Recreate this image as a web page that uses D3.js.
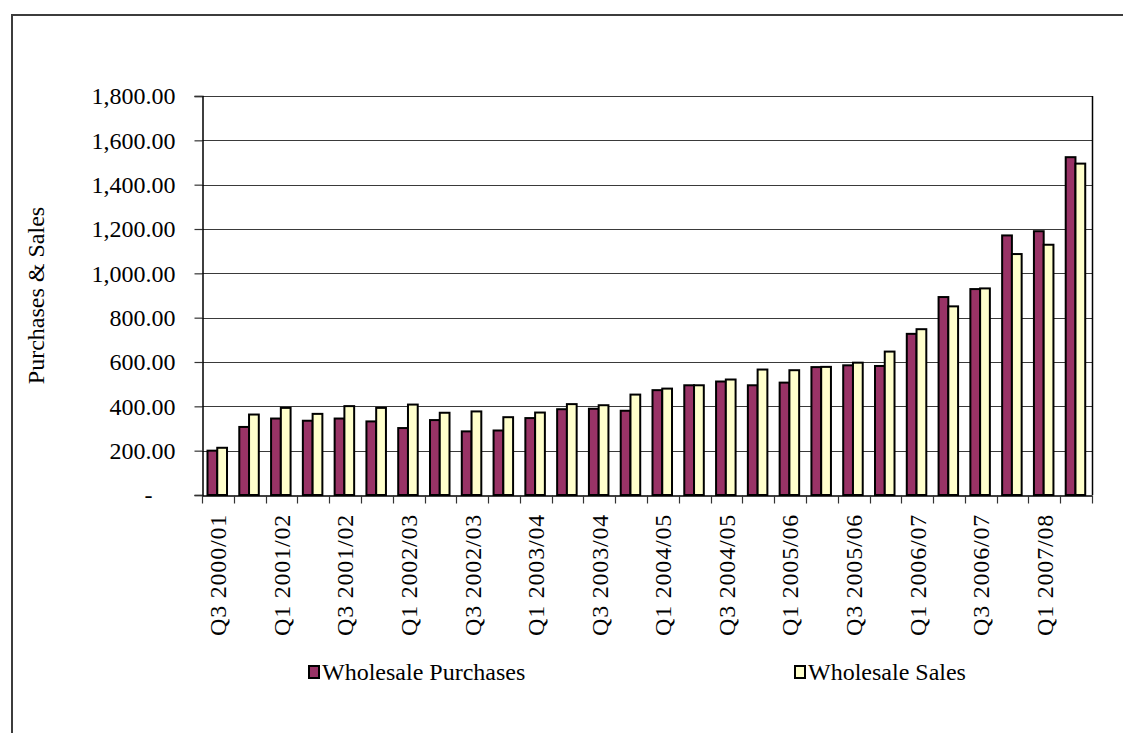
<!DOCTYPE html>
<html>
<head>
<meta charset="utf-8">
<script src="https://cdn.jsdelivr.net/npm/d3@7"></script>
<style>
  html, body { margin: 0; padding: 0; background: #fff; }
  svg { display: block; }
  text { font-family: "Liberation Serif", "Times New Roman", serif; fill: #000; }
</style>
</head>
<body>
<svg id="chart" width="1123" height="733"></svg>
<script>
// Quarterly periods (financial years)
const categories = [
  "Q3 2000/01", "Q4 2000/01",
  "Q1 2001/02", "Q2 2001/02", "Q3 2001/02", "Q4 2001/02",
  "Q1 2002/03", "Q2 2002/03", "Q3 2002/03", "Q4 2002/03",
  "Q1 2003/04", "Q2 2003/04", "Q3 2003/04", "Q4 2003/04",
  "Q1 2004/05", "Q2 2004/05", "Q3 2004/05", "Q4 2004/05",
  "Q1 2005/06", "Q2 2005/06", "Q3 2005/06", "Q4 2005/06",
  "Q1 2006/07", "Q2 2006/07", "Q3 2006/07", "Q4 2006/07",
  "Q1 2007/08", "Q2 2007/08"
];

const wholesalePurchases = [
  200, 307, 345, 335, 345, 332, 302, 338, 287, 291,
  347, 387, 389, 380, 473, 495, 512, 495, 507, 577,
  585, 582, 727, 893, 929, 1171, 1190, 1524
];

const wholesaleSales = [
  213, 363, 393, 366, 401, 393, 408, 371, 377, 351,
  372, 410, 405, 453, 480, 495, 521, 566, 563, 578,
  597, 647, 748, 851, 932, 1087, 1129, 1495
];

const seriesNames = ["Wholesale Purchases", "Wholesale Sales"];
const seriesColors = ["#993366", "#FFFFCC"];
const yTicks = [0, 200, 400, 600, 800, 1000, 1200, 1400, 1600, 1800];
const yTitle = "Purchases & Sales";

const svg = d3.select("#chart");
const W = 1123, H = 733;
const plot = { left: 202, right: 1092, top: 96, bottom: 495 };
const FONT = 24;

// Outer chart frame (runs off the right and bottom edges)
svg.append("rect")
  .attr("x", 12).attr("y", 15)
  .attr("width", W).attr("height", H)
  .attr("fill", "none").attr("stroke", "#3c3c3c").attr("stroke-width", 2);

const x = d3.scaleBand()
  .domain(categories)
  .range([plot.left, plot.right])
  .paddingInner(0).paddingOuter(0);

const y = d3.scaleLinear()
  .domain([0, 1800])
  .range([plot.bottom, plot.top]);

// Horizontal gridlines
svg.append("g")
  .selectAll("line")
  .data(yTicks.filter(d => d > 0))
  .join("line")
  .attr("x1", plot.left).attr("x2", plot.right)
  .attr("y1", d => Math.round(y(d)) + 0.5).attr("y2", d => Math.round(y(d)) + 0.5)
  .attr("stroke", "#3a3a3a").attr("stroke-width", 1.2);

// Right edge of the plot area
svg.append("line")
  .attr("x1", plot.right + 0.5).attr("x2", plot.right + 0.5)
  .attr("y1", Math.round(y(1800))).attr("y2", plot.bottom)
  .attr("stroke", "#000").attr("stroke-width", 1.5);

// Bars
const inner = x.bandwidth();
const groupOffset = inner * 0.173;
const barW = inner * 0.307;
const series = [wholesalePurchases, wholesaleSales];

series.forEach((vals, si) => {
  svg.append("g")
    .selectAll("rect")
    .data(vals)
    .join("rect")
    .attr("x", (d, i) => x(categories[i]) + groupOffset + si * barW)
    .attr("y", d => y(d))
    .attr("width", barW)
    .attr("height", d => y(0) - y(d))
    .attr("fill", seriesColors[si])
    .attr("stroke", "#000")
    .attr("stroke-width", 2);
});

// Y axis
const yAxis = d3.axisLeft(y)
  .tickValues(yTicks)
  .tickSize(8)
  .tickPadding(19)
  .tickFormat(d => d === 0 ? "-" : d3.format(",.2f")(d));

const gy = svg.append("g")
  .attr("transform", `translate(${plot.left + 0.5},0)`)
  .call(yAxis);
gy.select(".domain").attr("stroke", "#000").attr("stroke-width", 1.5);
gy.selectAll(".tick line").attr("stroke", "#333").attr("stroke-width", 1.2);
gy.selectAll(".tick text")
  .attr("font-size", FONT)
  .attr("font-family", "Liberation Serif, serif")
  .filter(d => d === 0)
  .attr("x", -54).attr("text-anchor", "middle");

// X axis: ticks on category boundaries, labels on every other category
const xAxis = d3.axisBottom(x).tickSize(0).tickFormat("");
const gx = svg.append("g")
  .attr("transform", `translate(0,${plot.bottom + 0.5})`)
  .call(xAxis);
gx.select(".domain").attr("stroke", "#000").attr("stroke-width", 1.5);
gx.selectAll(".tick").remove();

const boundaries = categories.map(c => x(c)).concat([plot.right]);
gx.selectAll(".bound")
  .data(boundaries)
  .join("line")
  .attr("class", "bound")
  .attr("x1", d => Math.round(d) + 0.5).attr("x2", d => Math.round(d) + 0.5)
  .attr("y1", 0).attr("y2", 8)
  .attr("stroke", "#333").attr("stroke-width", 1.2);

svg.append("g")
  .selectAll("text")
  .data(categories.filter((c, i) => i % 2 === 0))
  .join("text")
  .attr("transform", d => `translate(${x(d) + x.bandwidth() / 2},514) rotate(-90)`)
  .attr("text-anchor", "end")
  .attr("dy", "0.35em")
  .attr("font-size", FONT)
  .attr("letter-spacing", 0.8)
  .text(d => d);

// Y axis title
svg.append("text")
  .attr("transform", `translate(44,${(plot.top + plot.bottom) / 2}) rotate(-90)`)
  .attr("text-anchor", "middle")
  .attr("font-size", FONT)
  .text(yTitle);

// Legend
const legendX = [309, 795];
const legend = svg.append("g");
seriesNames.forEach((name, i) => {
  legend.append("rect")
    .attr("x", legendX[i]).attr("y", 666)
    .attr("width", 10).attr("height", 12)
    .attr("fill", seriesColors[i])
    .attr("stroke", "#000").attr("stroke-width", 2);
  legend.append("text")
    .attr("x", legendX[i] + 13).attr("y", 680)
    .attr("font-size", FONT)
    .text(name);
});
</script>
</body>
</html>
